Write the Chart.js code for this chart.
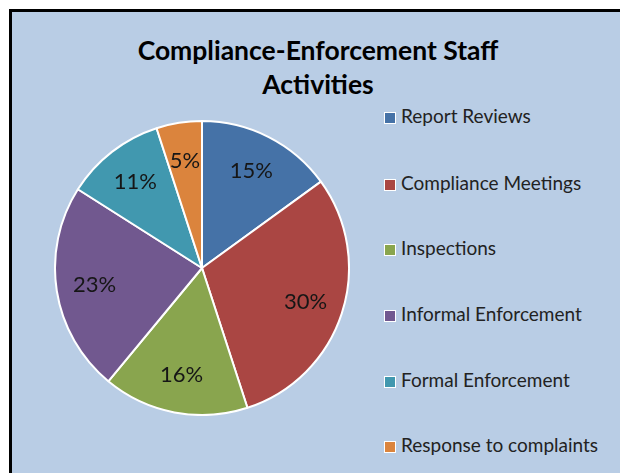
<!DOCTYPE html>
<html>
<head>
<meta charset="utf-8">
<script src="https://cdn.jsdelivr.net/npm/chart.js@4/dist/chart.umd.min.js"></script>
<style>
  body { margin: 0; width: 620px; height: 473px; background: #fff; overflow: hidden; position: relative; font-family: Lato, "Open Sans", sans-serif; }
  #panel { position: absolute; left: 9px; top: 9px; width: 620px; height: 480px; background: #B9CDE5; border-left: 3px solid #000; border-top: 3px solid #000; box-sizing: border-box; }
  #title { position: absolute; left: 16px; width: 604px; top: 33px; text-align: center; font-weight: bold; font-size: 26.5px; line-height: 34px; color: #000; }
  #pieWrap { position: absolute; left: 54px; top: 120px; width: 296px; height: 296px; }
  .item { position: absolute; left: 384px; height: 20px; line-height: 20px; font-size: 19px; color: #222; white-space: nowrap; }
  .item span.box { display: inline-block; width: 10px; height: 10px; border: 1px solid #fff; vertical-align: -1px; margin-right: 5px; }
</style>
</head>
<body>
<div id="panel"></div>
<div id="title">Compliance-Enforcement Staff<br>Activities</div>
<div id="pieWrap"><canvas id="staffPie" width="296" height="296"></canvas></div>
<div id="legend"></div>
<script>
// chart data
const categories = [
    'Report Reviews',
    'Compliance Meetings',
    'Inspections',
    'Informal Enforcement',
    'Formal Enforcement',
    'Response to complaints'
];
const shares = [15, 30, 16, 23, 11, 5];
const sliceColors = ['#4572A7', '#AA4643', '#89A54E', '#71588F', '#4198AF', '#DB843D'];

// legend rows down the right side
const legendTops = [116, 183, 248, 314, 380, 445];
const legendEl = document.getElementById('legend');
categories.forEach((name, i) => {
    const row = document.createElement('div');
    row.className = 'item';
    row.style.top = (legendTops[i] - 10) + 'px';
    row.innerHTML = '<span class="box" style="background:' + sliceColors[i] + '"></span>' + name;
    legendEl.appendChild(row);
});

// writes the percentage inside each slice
const sliceLabels = {
    id: 'sliceLabels',
    afterDatasetsDraw(chart) {
        const ctx = chart.ctx;
        const meta = chart.getDatasetMeta(0);
        ctx.save();
        ctx.font = '22px Lato, "Open Sans", sans-serif';
        ctx.fillStyle = '#161616';
        ctx.textAlign = 'center';
        ctx.textBaseline = 'middle';
        meta.data.forEach((arc, i) => {
            const p = arc.getProps(['x', 'y', 'startAngle', 'endAngle', 'outerRadius'], true);
            const mid = (p.startAngle + p.endAngle) / 2;
            const r = p.outerRadius * 0.74;
            ctx.fillText(shares[i] + '%', p.x + Math.cos(mid) * r, p.y + Math.sin(mid) * r);
        });
        ctx.restore();
    }
};

const ctxPie = document.getElementById('staffPie').getContext('2d');
const staffPie = new Chart(ctxPie, {
    type: 'pie',
    data: {
        labels: categories,
        datasets: [{
            data: shares,
            backgroundColor: sliceColors,
            borderColor: '#ffffff',
            borderWidth: 2
        }]
    },
    options: {
        responsive: false,
        animation: false,
        devicePixelRatio: 1,
        layout: { padding: 0 },
        plugins: {
            legend: { display: false },
            tooltip: { enabled: false }
        }
    },
    plugins: [sliceLabels]
});
</script>
</body>
</html>
